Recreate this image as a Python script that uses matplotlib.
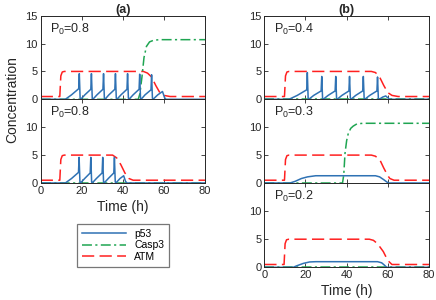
"""p53 / Casp3 / ATM time courses for different P0 values."""

import matplotlib

matplotlib.use("Agg")
import matplotlib.pyplot as plt
from matplotlib.lines import Line2D
from matplotlib.ticker import FixedFormatter

plt.rcParams["font.family"] = ["Liberation Sans", "DejaVu Sans"]
plt.rcParams["mathtext.default"] = "regular"

# ---- data: (time h, concentration) ----
# (a) upper, P0 = 0.8
p53_a1 = [(0, 0), (12, 0), (15, 0.8), (18.5, 1.9), (18.8, 4.6), (19.2, 0.2), (19.5, 0),
          (21.5, 0.8), (24.4, 1.8), (24.7, 4.6), (25.1, 0.2), (25.4, 0),
          (27.4, 0.8), (30.3, 1.8), (30.6, 4.6), (31.0, 0.2), (31.3, 0),
          (33.2, 0.8), (36.1, 1.8), (36.4, 4.6), (36.8, 0.2), (37.1, 0),
          (39.1, 0.8), (42.0, 1.8), (42.3, 4.6), (42.7, 0.2), (43.0, 0),
          (45.0, 0.8), (47.9, 1.8), (48.2, 4.5), (48.6, 0.2), (48.9, 0),
          (50.8, 0.8), (53.7, 1.7), (54.0, 4.4), (54.4, 0.2), (54.7, 0),
          (57.0, 0.8), (59.3, 1.4), (60.3, 0.3), (61, 0), (80, 0)]
casp3_a1 = [(0, 0), (47.5, 0), (48.3, 1.0), (49.3, 4.0), (50.3, 7.5), (51.5, 9.5),
            (53, 10.3), (55, 10.6), (58, 10.7), (80, 10.7)]
atm_a1 = [(0, 0.5), (9.3, 0.5), (9.8, 4.2), (10.5, 4.9), (11.5, 5), (50, 5), (52, 4.7),
          (54, 4.0), (56, 2.5), (58, 1.2), (60, 0.7), (63, 0.5), (80, 0.5)]

# (a) lower, P0 = 0.8
p53_a2 = [(0, 0), (12, 0), (15, 0.8), (18.4, 1.9), (18.7, 4.6), (19.1, 0.2), (19.4, 0),
          (21.4, 0.8), (24.1, 1.8), (24.4, 4.6), (24.8, 0.2), (25.1, 0),
          (27.1, 0.8), (29.9, 1.8), (30.2, 4.6), (30.6, 0.2), (30.9, 0),
          (32.9, 0.8), (35.6, 1.8), (35.9, 4.6), (36.3, 0.2), (36.6, 0),
          (38.6, 0.8), (40.4, 1.3), (41.3, 0.3), (42, 0), (80, 0)]
casp3_a2 = [(0, 0), (80, 0)]
atm_a2 = [(0, 0.5), (9.3, 0.5), (9.8, 4.2), (10.5, 4.9), (11.5, 5), (35, 5), (37, 4.5),
          (39, 3.3), (41, 1.8), (43, 0.8), (45, 0.5), (80, 0.5)]

# (b) top, P0 = 0.4
p53_b1 = [(0, 0), (12, 0), (16, 0.7), (20.6, 1.7), (20.9, 4.8), (21.3, 0.2), (21.6, 0),
          (24.0, 0.7), (27.6, 1.5), (27.9, 4.1), (28.3, 0.2), (28.6, 0),
          (31.0, 0.7), (34.4, 1.5), (34.7, 4.1), (35.1, 0.2), (35.4, 0),
          (37.7, 0.7), (41.1, 1.5), (41.4, 4.1), (41.8, 0.2), (42.1, 0),
          (44.4, 0.7), (47.8, 1.5), (48.1, 4.1), (48.5, 0.2), (48.8, 0),
          (51.2, 0.7), (54.7, 1.5), (55.0, 4.0), (55.4, 0.2), (55.8, 0),
          (57.5, 0.4), (59.0, 0.6), (60.2, 0.2), (61, 0), (80, 0)]
casp3_b1 = [(0, 0), (80, 0)]
atm_b1 = [(0, 0.5), (9.8, 0.5), (10.3, 4.2), (11.0, 4.9), (12, 5), (52, 5), (54, 4.8),
          (56, 4.0), (58, 2.5), (60, 1.2), (62, 0.7), (65, 0.5), (80, 0.5)]

# (b) middle, P0 = 0.3
p53_b2 = [(0, 0), (12.5, 0), (15, 0.3), (18, 0.8), (21, 1.1), (25, 1.3), (54, 1.3),
          (56, 1.1), (58, 0.6), (60.2, 0), (80, 0)]
casp3_b2 = [(0, 0), (38.0, 0), (38.6, 1.5), (39.2, 5.3), (40.0, 7.6), (40.8, 8.9),
            (42, 9.8), (43.2, 10.2), (45, 10.6), (48, 10.7), (80, 10.7)]
atm_b2 = [(0, 0.5), (9.8, 0.5), (10.3, 4.2), (11.0, 4.9), (12, 5), (52, 5), (54, 4.8),
          (56.2, 4.1), (58, 2.7), (60, 1.3), (61, 0.8), (63, 0.5), (80, 0.5)]

# (b) bottom, P0 = 0.2
p53_b3 = [(0, 0), (14, 0), (16, 0.3), (19, 0.7), (22, 0.95), (25, 1.0), (55, 1.0),
          (57, 0.8), (58.3, 0.4), (59.4, 0), (80, 0)]
casp3_b3 = [(0, 0), (80, 0)]
atm_b3 = [(0, 0.5), (9.6, 0.5), (10.1, 4.2), (10.8, 4.9), (12, 5), (51, 5), (53, 4.8),
          (55, 4.2), (57.8, 2.8), (60, 1.2), (62, 0.5), (80, 0.5)]

p0_labels = ["0.8", "0.8", "0.4", "0.3", "0.2"]
series_names = ["p53", "Casp3", "ATM"]
xticks = [0, 20, 40, 60, 80]
yticks = [0, 5, 10, 15]

BLUE = "#2f72b4"
GREEN = "#1fa552"
RED = "#ff2020"
AXC = "#262626"

W, H = 436, 300
fig = plt.figure(figsize=(W / 100, H / 100), dpi=100)


def px_axes(left, top, right, bottom):
    return fig.add_axes([left / W, 1 - bottom / H, (right - left) / W, (bottom - top) / H])


def draw(ax, p53, casp3, atm, p0, show_x, top_row):
    t, v = zip(*atm)
    ax.plot(t, v, color=RED, lw=1.1, dashes=(8, 3.5))
    t, v = zip(*casp3)
    ax.plot(t, v, color=GREEN, lw=1.1, dashes=(6.5, 2.2, 1.4, 2.2))
    t, v = zip(*p53)
    ax.plot(t, v, color=BLUE, lw=1.1)
    ax.set_xlim(0, 80)
    ax.set_ylim(0, 15)
    ax.set_xticks(xticks)
    ax.set_yticks(yticks)
    # stacked panels: the 15 label would collide with the 0 of the panel above
    ylabels = [str(y) if (top_row or y != 15) else "" for y in yticks]
    ax.yaxis.set_major_formatter(FixedFormatter(ylabels))
    ax.tick_params(direction="in", top=True, right=True, labelsize=8, colors=AXC,
                   length=3, width=0.6, pad=2)
    for s in ax.spines.values():
        s.set_color(AXC)
        s.set_linewidth(0.7)
    if show_x:
        ax.set_xlabel("Time (h)", fontsize=10, color=AXC, labelpad=3)
    else:
        ax.set_xticklabels([])
    ax.text(4.5, 12.6, f"P$_0$={p0}", fontsize=9, va="center", color=AXC)


panels = [
    (px_axes(40.7, 15.7, 205, 99.3), p53_a1, casp3_a1, atm_a1, False, True),
    (px_axes(40.7, 99.3, 205, 183), p53_a2, casp3_a2, atm_a2, True, False),
    (px_axes(264.3, 15.7, 429, 99.3), p53_b1, casp3_b1, atm_b1, False, True),
    (px_axes(264.3, 99.3, 429, 183), p53_b2, casp3_b2, atm_b2, False, False),
    (px_axes(264.3, 183, 429, 267.3), p53_b3, casp3_b3, atm_b3, True, False),
]
for (ax, p53, casp3, atm, show_x, top_row), p0 in zip(panels, p0_labels):
    draw(ax, p53, casp3, atm, p0, show_x, top_row)

panels[0][0].set_title("(a)", fontsize=9, fontweight="bold", pad=2, color=AXC)
panels[2][0].set_title("(b)", fontsize=9, fontweight="bold", pad=2, color=AXC)
fig.text(12 / W, 1 - 99.3 / H, "Concentration", rotation=90, fontsize=10,
         va="center", ha="center", color=AXC)

handles = [
    Line2D([], [], color=BLUE, lw=1.1),
    Line2D([], [], color=GREEN, lw=1.1, dashes=(6.5, 2.2, 1.4, 2.2)),
    Line2D([], [], color=RED, lw=1.1, dashes=(8, 3.5)),
]
leg = fig.legend(handles, series_names, loc="center", bbox_to_anchor=(123 / W, 1 - 245.5 / H),
                 fontsize=7.5, frameon=True, fancybox=False, handlelength=4.2,
                 borderpad=0.5, labelspacing=0.15, handletextpad=0.8, borderaxespad=0)
leg.get_frame().set_edgecolor("#555555")
leg.get_frame().set_linewidth(0.9)

fig.savefig("out.png", dpi=100)
